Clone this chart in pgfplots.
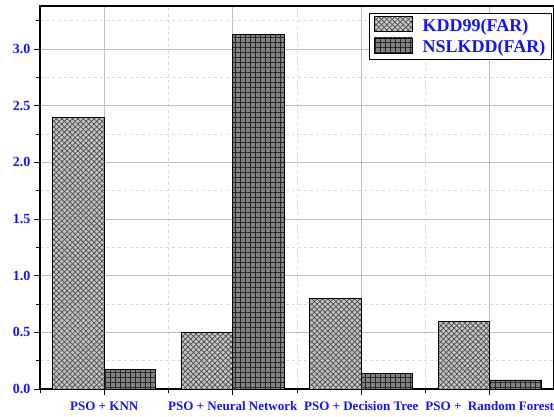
\documentclass[border=0pt]{standalone}
\usepackage{fontspec}
\setmainfont{Liberation Serif}
\usepackage{pgfplots}
\pgfplotsset{compat=1.18}
\usetikzlibrary{patterns.meta}

\definecolor{lblue}{RGB}{20,20,245}
\definecolor{kddfill}{RGB}{195,195,195}
\definecolor{nslfill}{RGB}{130,130,130}

\begin{document}
\begin{tikzpicture}
\begin{axis}[
    scale only axis,
    width=514pt, height=383pt,
    ybar=0pt, bar width=0.4,
    xmin=-0.5, xmax=3.5,
    ymin=0, ymax=3.38,
    xtick={0,1,2,3},
    xticklabels={PSO + KNN, PSO + Neural Network, PSO + Decision Tree, PSO +\ \ Random Forest},
    minor xtick={-0.5,0.5,1.5,2.5,3.5},
    ytick={0,0.5,...,3.0},
    minor ytick={0.25,0.75,...,3.25},
    yticklabel style={/pgf/number format/fixed, /pgf/number format/fixed zerofill, /pgf/number format/precision=1},
    /pgf/number format/assume math mode=true,
    tick label style={font=\bfseries\fontsize{13}{15}\selectfont, text=lblue},
    yticklabel style={font=\bfseries\fontsize{14}{16}\selectfont},
    xticklabel style={yshift=-3pt},
    tick align=outside, tick pos=left,
    major tick length=6pt, minor tick length=4pt,
    tick style={black, line width=0.8pt},
    grid=both,
    major grid style={black!25, line width=0.6pt},
    minor grid style={black!15, dashed, line width=0.5pt},
    axis line style={black, line width=1.2pt},
    legend style={at={(0.9955,0.982)}, anchor=north east, draw=black, line width=0.6pt,
        font=\bfseries\fontsize{18}{20}\selectfont, text=lblue,
        cells={anchor=west}, row sep=3pt, inner xsep=4pt, inner ysep=3pt},
    legend image code/.code={
        \path (-1pt,0) (46pt,0);
        \draw[#1, line width=0.8pt] (0pt,-6pt) rectangle (38pt,9pt);
    },
]
\addplot[draw=black, line width=0.8pt, fill=kddfill,
    postaction={pattern={Lines[angle=45, distance=3.8pt, line width=0.7pt]}, pattern color=black!70},
    postaction={pattern={Lines[angle=-45, distance=3.8pt, line width=0.7pt]}, pattern color=black!70}]
    coordinates {(0,2.40) (1,0.50) (2,0.80) (3,0.60)};
\addlegendentry{KDD99(FAR)}
\addplot[draw=black, line width=0.8pt, fill=nslfill,
    postaction={pattern={Lines[angle=0, distance=5pt, line width=0.8pt]}, pattern color=black!85},
    postaction={pattern={Lines[angle=90, distance=5pt, line width=0.8pt]}, pattern color=black!85}]
    coordinates {(0,0.17) (1,3.13) (2,0.14) (3,0.08)};
\addlegendentry{NSLKDD(FAR)}
\end{axis}
\pgfresetboundingbox
\path (current axis.south west) ++(-40pt,-28pt) coordinate (bl);
\path (current axis.north east) ++(-1pt,6pt) coordinate (tr);
\path (bl) rectangle (tr);
\end{tikzpicture}
\end{document}
